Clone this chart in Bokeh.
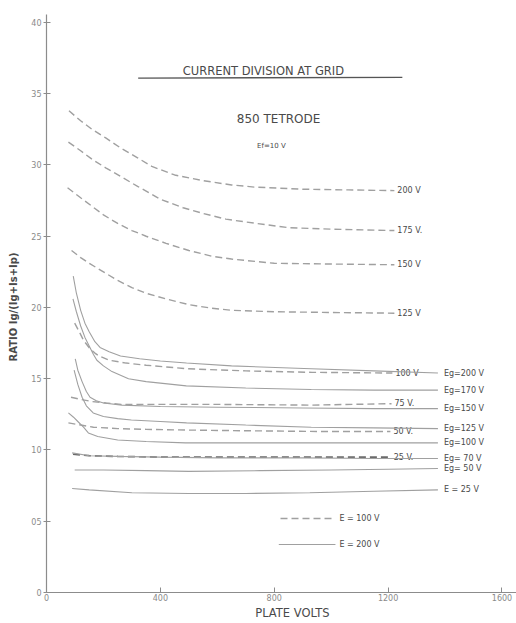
from bokeh.plotting import figure
from bokeh.models import Range1d, FixedTicker
from bokeh.embed import file_html
from bokeh.resources import INLINE
from bokeh.core.properties import value

FONT = "DejaVu Sans"

# ---------------- data (plate volts, ratio x100) ----------------
x_ticks = [0, 400, 800, 1200, 1600]
x_tick_labels = ["0", "400", "800", "1200", "1600"]
y_ticks = [0, 5, 10, 15, 20, 25, 30, 35, 40]
y_tick_labels = ["0", "05", "10", "15", "20", "25", "30", "35", "40"]

# dashed family (E = 100 V), labelled by grid volts
d200_v = [79, 120, 160, 208, 260, 320, 370, 450, 550, 650, 730, 900, 1060, 1222]
d200_r = [33.8, 33.1, 32.5, 31.9, 31.2, 30.5, 29.9, 29.3, 28.9, 28.6, 28.45, 28.3, 28.25, 28.2]
d175_v = [77, 120, 160, 208, 260, 320, 400, 480, 550, 630, 700, 850, 1000, 1222]
d175_r = [31.6, 31.0, 30.4, 29.8, 29.2, 28.5, 27.6, 27.0, 26.6, 26.2, 26.0, 25.6, 25.5, 25.4]
d150_v = [74, 120, 160, 200, 250, 300, 350, 420, 500, 580, 650, 800, 1000, 1222]
d150_r = [28.4, 27.7, 27.1, 26.5, 25.9, 25.4, 25.0, 24.5, 24.0, 23.6, 23.4, 23.1, 23.05, 23.0]
d125_v = [88, 120, 150, 200, 250, 300, 350, 420, 500, 580, 650, 800, 1000, 1222]
d125_r = [24.0, 23.5, 23.1, 22.5, 21.9, 21.4, 21.0, 20.6, 20.2, 19.95, 19.8, 19.7, 19.65, 19.6]
d100_v = [99, 115, 130, 153, 170, 184, 220, 280, 350, 494, 700, 933, 1215]
d100_r = [18.9, 18.3, 17.7, 17.1, 16.8, 16.6, 16.3, 16.1, 15.95, 15.7, 15.55, 15.45, 15.4]
d75_v = [86, 120, 160, 210, 262, 400, 600, 931, 1212]
d75_r = [13.7, 13.55, 13.4, 13.3, 13.2, 13.2, 13.2, 13.15, 13.25]
d50_v = [77, 120, 165, 250, 350, 490, 700, 950, 1208]
d50_r = [11.9, 11.75, 11.6, 11.5, 11.45, 11.4, 11.35, 11.3, 11.3]
d25_v = [93, 150, 250, 399, 600, 800, 1000, 1209]
d25_r = [9.7, 9.6, 9.55, 9.5, 9.5, 9.5, 9.5, 9.5]
dashed_labels = ["200  V", "175  V.", "150  V", "125  V", "100  V", "75  V.", "50  V.", "25  V."]

# solid family (E = 200 V), labelled by Eg
s200_v = [94, 105, 120, 135, 150, 170, 188, 220, 260, 327, 400, 492, 650, 930, 1150, 1375]
s200_r = [22.2, 21.0, 19.8, 18.9, 18.3, 17.6, 17.2, 16.9, 16.6, 16.4, 16.25, 16.1, 15.9, 15.7, 15.55, 15.4]
s170_v = [93, 105, 120, 135, 150, 165, 177, 200, 230, 288, 350, 491, 700, 930, 1150, 1375]
s170_r = [20.6, 19.7, 18.7, 17.9, 17.3, 16.7, 16.3, 15.9, 15.5, 15.0, 14.8, 14.5, 14.35, 14.25, 14.2, 14.2]
s150_v = [101, 110, 125, 140, 153, 175, 200, 265, 400, 600, 900, 1150, 1375]
s150_r = [16.4, 15.6, 14.8, 14.1, 13.7, 13.45, 13.3, 13.15, 13.05, 13.0, 12.95, 12.9, 12.9]
s125_v = [97, 110, 125, 140, 164, 200, 250, 298, 400, 492, 700, 930, 1150, 1375]
s125_r = [15.6, 14.6, 13.7, 13.1, 12.6, 12.35, 12.2, 12.1, 12.0, 11.9, 11.75, 11.6, 11.55, 11.5]
s100_v = [77, 95, 110, 130, 147, 180, 250, 350, 488, 700, 1000, 1375]
s100_r = [12.6, 12.3, 12.0, 11.6, 11.2, 10.95, 10.7, 10.6, 10.5, 10.5, 10.5, 10.5]
s70_v = [90, 150, 250, 400, 600, 900, 1150, 1375]
s70_r = [9.8, 9.6, 9.55, 9.5, 9.45, 9.45, 9.4, 9.4]
s50_v = [99, 200, 350, 500, 750, 1000, 1200, 1375]
s50_r = [8.6, 8.6, 8.55, 8.5, 8.55, 8.6, 8.65, 8.7]
s25_v = [90, 150, 300, 500, 700, 925, 1150, 1375]
s25_r = [7.3, 7.2, 7.0, 6.95, 6.95, 7.0, 7.1, 7.2]
solid_labels = ["Eg=200  V", "Eg=170  V", "Eg=150  V", "Eg=125  V",
                "Eg=100  V", "Eg= 70  V", "Eg= 50  V", "E  = 25  V"]

dashed = [(d200_v, d200_r), (d175_v, d175_r), (d150_v, d150_r), (d125_v, d125_r),
          (d100_v, d100_r), (d75_v, d75_r), (d50_v, d50_r), (d25_v, d25_r)]
solid = [(s200_v, s200_r), (s170_v, s170_r), (s150_v, s150_r), (s125_v, s125_r),
         (s100_v, s100_r), (s70_v, s70_r), (s50_v, s50_r), (s25_v, s25_r)]

# ---------------- figure ----------------
LINE = "#a0a0a0"
INK = "#4a4a4a"
p = figure(width=516, height=623, x_range=Range1d(0, 1651), y_range=Range1d(0, 40.56),
           output_backend="svg", toolbar_location=None,
           min_border_left=46, min_border_right=0, min_border_top=14, min_border_bottom=31)
p.outline_line_color = None
p.xgrid.visible = False
p.ygrid.visible = False
p.background_fill_color = "white"
p.border_fill_color = "white"

p.xaxis.ticker = FixedTicker(ticks=x_ticks)
p.xaxis.major_label_overrides = {t: l for t, l in zip(x_ticks, x_tick_labels)}
p.yaxis.ticker = FixedTicker(ticks=y_ticks)
p.yaxis.major_label_overrides = {t: l for t, l in zip(y_ticks, y_tick_labels)}
for ax in (p.xaxis, p.yaxis):
    ax.axis_line_color = "#8c8c8c"
    ax.axis_line_width = 1.2
    ax.major_tick_line_color = "#8c8c8c"
    ax.minor_tick_line_color = None
    ax.major_label_text_font = FONT
    ax.major_label_text_font_size = "8px"
    ax.major_label_text_color = "#8a8a8a"
    ax.axis_label_text_font = FONT
    ax.axis_label_text_color = INK
    ax.axis_label_text_font_style = "normal"
p.xaxis.major_tick_in = 5
p.xaxis.major_tick_out = 0
p.xaxis.major_label_standoff = 1
p.xaxis.axis_label = "\u00a0" * 7 + "PLATE  VOLTS"
p.xaxis.axis_label_text_font_size = "11.5px"
p.xaxis.axis_label_standoff = 2
p.yaxis.major_tick_in = 4
p.yaxis.major_tick_out = 3
p.yaxis.major_label_standoff = 2
p.yaxis.axis_label = "RATIO   Ig/(Ig+Is+Ip)"
p.yaxis.axis_label_text_font_size = "10px"
p.yaxis.axis_label_text_font_style = "bold"
p.yaxis.axis_label_standoff = 9

for (xs, ys), lab in zip(dashed, dashed_labels):
    dark = lab.startswith("25")
    p.line(xs, ys, line_color="#6a6a6a" if dark else LINE, line_width=1.7 if dark else 1.4,
           line_dash="7 4")
    p.text(x=[xs[-1]], y=[ys[-1]], text=[lab], text_font=value(FONT), text_font_size="8px",
           text_color=INK, text_baseline="middle", text_align="left", x_offset=3)

for (xs, ys), lab in zip(solid, solid_labels):
    p.line(xs, ys, line_color=LINE, line_width=1.1)
    p.text(x=[xs[-1]], y=[ys[-1]], text=[lab], text_font=value(FONT), text_font_size="8px",
           text_color=INK, text_baseline="middle", text_align="left", x_offset=6)

# titles (positions in data units)
p.text(x=[762], y=[36.6], text=["CURRENT DIVISION AT GRID"], text_font=value(FONT),
       text_font_size="11.5px", text_color=INK, text_align="center", text_baseline="middle")
p.segment(x0=[322], y0=[36.1], x1=[1250], y1=[36.15], line_color="#555555", line_width=1.3)
p.text(x=[822], y=[33.2], text=["850  TETRODE"], text_font=value(FONT),
       text_font_size="12px", text_color=INK, text_align="center", text_baseline="middle")
p.text(x=[790], y=[31.3], text=["Ef=10 V"], text_font=value(FONT),
       text_font_size="7px", text_color=INK, text_align="center", text_baseline="middle")

# legend
p.line([822, 1015], [5.19, 5.19], line_color=LINE, line_width=1.4, line_dash="7 4")
p.text(x=[1029], y=[5.19], text=["E = 100  V"], text_font=value(FONT), text_font_size="8px",
       text_color=INK, text_baseline="middle")
p.line([816, 1015], [3.37, 3.37], line_color=LINE, line_width=1.1)
p.text(x=[1029], y=[3.37], text=["E = 200  V"], text_font=value(FONT), text_font_size="8px",
       text_color=INK, text_baseline="middle")

open("out.html", "w").write(file_html(p, INLINE))
